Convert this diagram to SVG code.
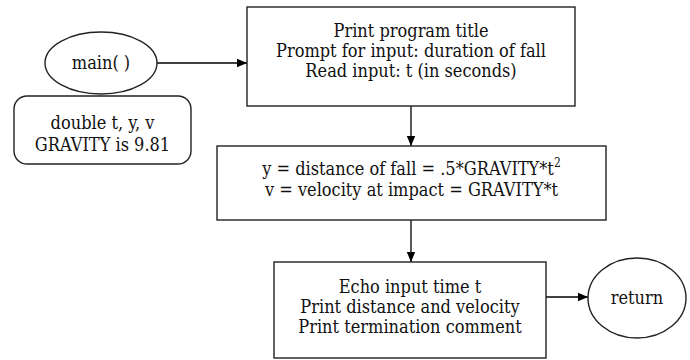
<svg xmlns="http://www.w3.org/2000/svg" width="690" height="360" viewBox="0 0 690 360">
  <style>
    .shape { fill: #fff; stroke: #222; stroke-width: 1.4; }
    .edge { fill: none; stroke: #000; stroke-width: 1.3; }
    .lbl { font-family: 'DejaVu Serif Condensed', 'DejaVu Serif', serif; font-size: 18px; fill: #111; text-anchor: middle; }
    .sup { font-size: 12px; }
  </style>
  <defs>
    <marker id="arrow" viewBox="0 0 10 10" refX="10" refY="5" markerWidth="10" markerHeight="10" markerUnits="userSpaceOnUse" orient="auto">
      <path d="M0,0.8 L10,5 L0,9.2 Z" fill="#000"/>
    </marker>
  </defs>

  <rect width="690" height="360" fill="#fff"/>

  <!-- flow connectors -->
  <g id="connectors">
    <line class="edge" x1="157" y1="63" x2="247" y2="63" marker-end="url(#arrow)"/>
    <line class="edge" x1="411" y1="106" x2="411" y2="146" marker-end="url(#arrow)"/>
    <line class="edge" x1="411" y1="220" x2="411" y2="262" marker-end="url(#arrow)"/>
    <line class="edge" x1="546" y1="297" x2="588" y2="297" marker-end="url(#arrow)"/>
  </g>

  <g id="main">
    <ellipse class="shape" cx="101" cy="63" rx="56" ry="31"/>
    <text class="lbl" x="101" y="69">main( )</text>
  </g>

  <g id="declarations">
    <rect class="shape" x="14" y="96" width="177" height="68" rx="13" ry="13"/>
    <text class="lbl" x="102.5" y="129">double t, y, v</text>
    <text class="lbl" x="102.5" y="151">GRAVITY is 9.81</text>
  </g>

  <g id="input">
    <rect class="shape" x="247" y="7" width="328" height="99"/>
    <text class="lbl" x="411" y="37">Print program title</text>
    <text class="lbl" x="411" y="57">Prompt for input: duration of fall</text>
    <text class="lbl" x="411" y="77">Read input: t (in seconds)</text>
  </g>

  <g id="compute">
    <rect class="shape" x="217" y="146" width="389" height="74"/>
    <text class="lbl" x="411.5" y="175">y = distance of fall = .5*GRAVITY*t<tspan class="sup" dy="-8">2</tspan></text>
    <text class="lbl" x="411.5" y="196">v = velocity at impact = GRAVITY*t</text>
  </g>

  <g id="output">
    <rect class="shape" x="274" y="262" width="272" height="96"/>
    <text class="lbl" x="410" y="293">Echo input time t</text>
    <text class="lbl" x="410" y="313">Print distance and velocity</text>
    <text class="lbl" x="410" y="333">Print termination comment</text>
  </g>

  <g id="return">
    <ellipse class="shape" cx="637" cy="298" rx="49" ry="40"/>
    <text class="lbl" x="637" y="304">return</text>
  </g>
</svg>
